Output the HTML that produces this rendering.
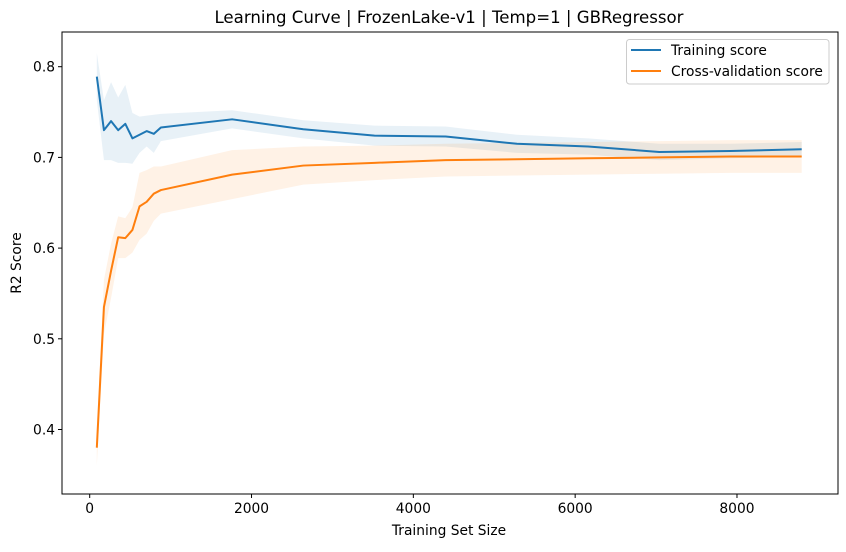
<!DOCTYPE html>
<html><head><meta charset="utf-8"><style>
body{margin:0;background:#fff;font-family:"Liberation Sans","DejaVu Sans",sans-serif}
svg text{font-family:"DejaVu Sans","Liberation Sans",sans-serif}
</style></head><body>
<svg id="chart" width="846" height="547" xmlns="http://www.w3.org/2000/svg">
<rect width="846" height="547" fill="#fff"/>
<g id="bands"></g><g id="lines"></g><g id="axes"></g>
<text x="449" y="23" text-anchor="middle" font-size="16.6" fill="#000">Learning Curve | FrozenLake-v1 | Temp=1 | GBRegressor</text>
<text x="449" y="535" text-anchor="middle" font-size="13.8">Training Set Size</text>
<text transform="translate(21,263) rotate(-90)" text-anchor="middle" font-size="13.8">R2 Score</text>
<g>
<rect x="626.5" y="39.5" width="202.5" height="44.5" rx="3" fill="#fff" stroke="#ccc"/>
<line x1="631" y1="50" x2="661" y2="50" stroke="#1f77b4" stroke-width="2"/>
<text x="671" y="55" font-size="13.8">Training score</text>
<line x1="631" y1="71" x2="661" y2="71" stroke="#ff7f0e" stroke-width="2"/>
<text x="671" y="76" font-size="13.8">Cross-validation score</text>
</g>
</svg>
<script>
const sizes=[88,176,264,352,440,528,616,704,792,880,1760,2640,3520,4400,5280,6160,7040,7920,8800];
const trainMean=[0.789,0.730,0.740,0.730,0.737,0.721,0.725,0.729,0.726,0.733,0.742,0.731,0.724,0.723,0.715,0.712,0.706,0.707,0.709];
const trainStd=[0.026,0.033,0.043,0.036,0.043,0.028,0.02,0.017,0.021,0.015,0.01,0.01,0.011,0.011,0.01,0.009,0.009,0.008,0.008];
const cvMean=[0.380,0.535,0.575,0.612,0.611,0.620,0.646,0.651,0.660,0.664,0.681,0.691,0.694,0.697,0.698,0.699,0.700,0.701,0.701];
const cvStd=[0.02,0.03,0.03,0.023,0.022,0.025,0.037,0.035,0.03,0.026,0.027,0.021,0.019,0.018,0.018,0.018,0.018,0.018,0.018];
const xTicks=[0,2000,4000,6000,8000];
const yTicks=[0.4,0.5,0.6,0.7,0.8];
const L=62,R=838,T=32,B=494;
const X=v=>89.7+v*0.08091;
const Y=v=>66.7+(0.8-v)*907;
const NS="http://www.w3.org/2000/svg";
function mk(tag,attrs,parent){const e=document.createElementNS(NS,tag);for(const k in attrs)e.setAttribute(k,attrs[k]);parent.appendChild(e);return e;}
const bands=document.getElementById('bands'),lines=document.getElementById('lines'),axes=document.getElementById('axes');
function band(m,s,color,name){
  let up=sizes.map((x,i)=>X(x)+','+Y(m[i]+s[i]));
  let dn=sizes.map((x,i)=>X(x)+','+Y(m[i]-s[i])).reverse();
  const p=mk('polygon',{points:up.concat(dn).join(' '),fill:color,'fill-opacity':0.1},bands);
  
  
}
function line(m,color,name){
  const p=mk('polyline',{points:sizes.map((x,i)=>X(x)+','+Y(m[i])).join(' '),fill:'none',stroke:color,'stroke-width':2,'stroke-linejoin':'round'},lines);
  
  
}
band(trainMean,trainStd,'#1f77b4','training-std-band');
band(cvMean,cvStd,'#ff7f0e','cv-std-band');
line(trainMean,'#1f77b4','training-score-line');
line(cvMean,'#ff7f0e','cv-score-line');
const frame=mk('rect',{x:L,y:T,width:R-L,height:B-T,fill:'none',stroke:'#000','stroke-width':1},axes);


xTicks.forEach(t=>{
  const x=X(t);
  mk('line',{x1:x,x2:x,y1:B,y2:B+4,stroke:'#000'},axes);
  const tx=mk('text',{x:x,y:B+19,'text-anchor':'middle','font-size':13.8},axes);
  tx.textContent=t;
  
  
});
yTicks.forEach(t=>{
  const y=Y(t);
  mk('line',{x1:L-4,x2:L,y1:y,y2:y,stroke:'#000'},axes);
  const tx=mk('text',{x:L-7,y:y+5,'text-anchor':'end','font-size':13.8},axes);
  tx.textContent=t.toFixed(1);
  
  
});
</script>
</body></html>
